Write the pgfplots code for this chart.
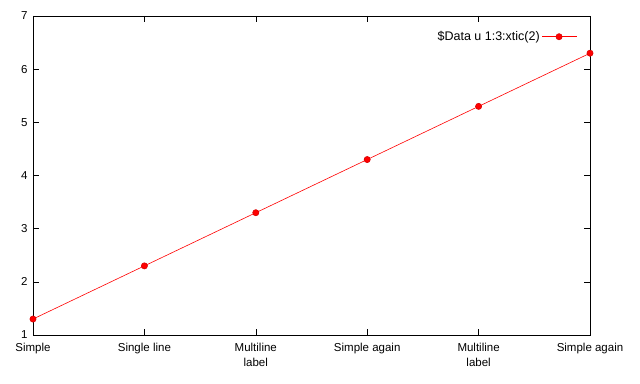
\documentclass[border=0pt]{standalone}
\usepackage{pgfplots}
\pgfplotsset{compat=1.18}
\usepackage{fontspec}
\setmainfont{Liberation Sans}
\begin{document}
\begin{tikzpicture}
\begin{axis}[
  scale only axis,
  width=557bp, height=319bp,
  xmin=0, xmax=5, ymin=1, ymax=7,
  xtick={0,1,2,3,4,5},
  xticklabels={Simple,Single line,{Multiline\\label},Simple again,{Multiline\\label},Simple again},
  xticklabel style={align=center, font=\fontsize{11.5bp}{15bp}\selectfont, yshift=-5bp},
  ytick={1,2,3,4,5,6,7},
  yticklabel style={font=\fontsize{11.5bp}{14bp}\selectfont, xshift=-2bp},
  /pgf/number format/assume math mode=true,
  tick align=inside,
  major tick length=6bp,
  tick style={black, line width=0.6pt},
  axis line style={black, line width=0.8pt},
  legend plot pos=right,
  legend image code/.code={\draw[mark repeat=2, mark phase=2] plot coordinates {(0bp,0bp)(17bp,0bp)(35bp,0bp)};},
  legend style={draw=none, fill=none, at={(0.983,0.965)}, anchor=north east,
    font=\fontsize{12.5bp}{15bp}\selectfont, legend cell align=right},
  clip=false,
]
\addplot[red, line width=0.6pt, mark=*, mark size=3.1pt, mark options={fill=red, draw=red!85!black}]
  coordinates {(0,1.3) (1,2.3) (2,3.3) (3,4.3) (4,5.3) (5,6.3)};
\addlegendentry{\$Data u 1:3:xtic(2)}
\end{axis}
\path ([shift={(-33bp,-49bp)}]current axis.south west) rectangle ([shift={(50bp,16bp)}]current axis.north east);
\end{tikzpicture}
\end{document}
